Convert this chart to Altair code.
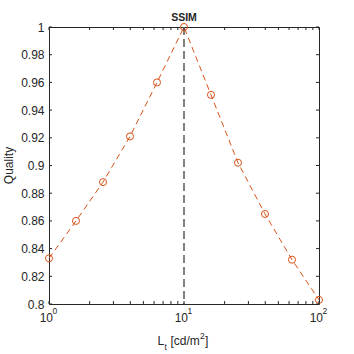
import altair as alt
import pandas as pd

# ---- data ----
luminance = [1.0, 1.585, 2.512, 3.981, 6.310, 10.0, 15.85, 25.12, 39.81, 63.10, 100.0]
quality = [0.833, 0.860, 0.888, 0.921, 0.960, 1.000, 0.951, 0.902, 0.865, 0.832, 0.803]
ref_lum = [10.0]
y_ticks = [0.80, 0.82, 0.84, 0.86, 0.88, 0.90, 0.92, 0.94, 0.96, 0.98, 1.00]
x_major = [1, 10, 100]
x_minor = [2, 3, 4, 5, 6, 7, 8, 9, 20, 30, 40, 50, 60, 70, 80, 90]
x_exp = ["0", "1", "2"]

W, H = 270, 277
FONT = "Liberation Sans"
TXT = "#262626"
ORANGE = "#D95319"

df = pd.DataFrame({"L": luminance, "Q": quality})
xs = alt.Scale(type="log", domain=[1, 100], nice=False)
ys = alt.Scale(domain=[0.8, 1.0], nice=False, zero=False)
yax = alt.Axis(values=y_ticks, format="~g", ticks=False, domain=False, grid=False,
               labelFont=FONT, labelFontSize=12, labelColor=TXT, labelPadding=5, title=None)


def Y():
    return alt.Y("Q:Q", scale=ys, axis=yax)


line = alt.Chart(df).mark_line(color=ORANGE, strokeWidth=1, strokeDash=[6, 4]).encode(
    x=alt.X("L:Q", scale=xs, axis=None), y=Y())
pts = alt.Chart(df).mark_point(shape="circle", filled=False, size=50, strokeWidth=1, color=ORANGE,
                               opacity=1).encode(
    x=alt.X("L:Q", scale=xs, axis=None), y=Y())

vline = alt.Chart(pd.DataFrame({"L": ref_lum})).mark_rule(
    color="#808080", strokeWidth=2, strokeDash=[8, 4]).encode(x=alt.X("L:Q", scale=xs, axis=None))

ydf = pd.DataFrame({"Q": y_ticks})
yt_left = alt.Chart(ydf).mark_rule(color=TXT, strokeWidth=1).encode(
    y=Y(), x=alt.value(0), x2=alt.value(3))
yt_right = alt.Chart(ydf).mark_rule(color=TXT, strokeWidth=1).encode(
    y=Y(), x=alt.value(W), x2=alt.value(W - 3))

xdf = pd.DataFrame({"L": x_major + x_minor})
xt_bot = alt.Chart(xdf).mark_rule(color=TXT, strokeWidth=1).encode(
    x=alt.X("L:Q", scale=xs, axis=None), y=alt.value(H), y2=alt.value(H - 3))
xt_top = alt.Chart(xdf).mark_rule(color=TXT, strokeWidth=1).encode(
    x=alt.X("L:Q", scale=xs, axis=None), y=alt.value(0), y2=alt.value(3))

ldf = pd.DataFrame({"L": x_major, "e": x_exp})
xl_base = alt.Chart(ldf).mark_text(text="10", font=FONT, fontSize=12, color=TXT, align="center",
                                   baseline="alphabetic", dx=-2.7).encode(
    x=alt.X("L:Q", scale=xs, axis=None), y=alt.value(H + 17.5))
xl_exp = alt.Chart(ldf).mark_text(font=FONT, fontSize=8.5, color=TXT, align="left",
                                  baseline="alphabetic", dx=3.5).encode(
    x=alt.X("L:Q", scale=xs, axis=None), y=alt.value(H + 10), text="e:N")

one = pd.DataFrame({"a": [0]})


def txt(s, x, y, size=12, align="left", weight="normal", angle=0):
    return alt.Chart(one).mark_text(text=s, font=FONT, fontSize=size, color=TXT, align=align,
                                    baseline="alphabetic", fontWeight=weight, angle=angle).encode(
        x=alt.value(x), y=alt.value(y))


x0 = 108.5
title_parts = [
    txt("L", x0, 318),
    txt("t", x0 + 6.9, 322.5, size=8.5),
    txt("[cd/m", x0 + 13.0, 318),
    txt("2", x0 + 42.6, 311.5, size=8.5),
    txt("]", x0 + 47.6, 318),
]
ttl = txt("SSIM", W / 2, -6.5, size=10.5, align="center", weight="bold")
ylab = txt("Quality", -36, H / 2, size=12, align="center", angle=270)

chart = alt.layer(line, vline, pts, yt_left, yt_right, xt_bot, xt_top, xl_base, xl_exp,
                  ttl, ylab, *title_parts).properties(
    width=W, height=H,
    autosize=alt.AutoSizeParams(type="none"),
    padding={"left": 49, "top": 27, "right": 35, "bottom": 50},
    background="white",
).configure_view(stroke=TXT, strokeWidth=1)

chart.save("out.html", embed_options={"renderer": "svg", "actions": False})
